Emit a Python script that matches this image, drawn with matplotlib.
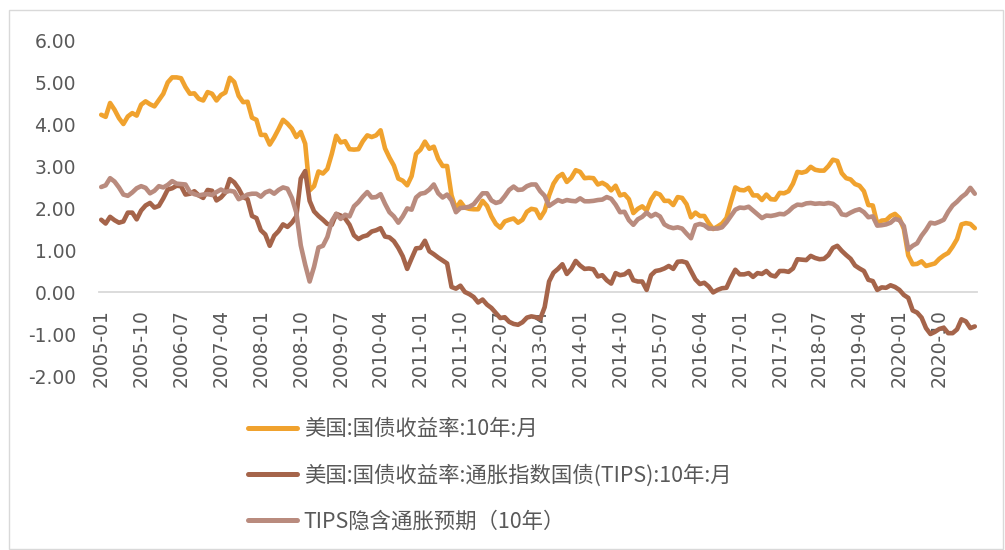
import matplotlib
matplotlib.use('Agg')
import matplotlib.pyplot as plt
import pandas as pd
from matplotlib.patches import Rectangle
from matplotlib.lines import Line2D
from matplotlib.font_manager import FontProperties

# ---------------- data ----------------
months = pd.period_range('2005-01', '2021-06', freq='M').strftime('%Y-%m').tolist()

tick_labels = ['2005-01', '2005-10', '2006-07', '2007-04', '2008-01', '2008-10',
               '2009-07', '2010-04', '2011-01', '2011-10', '2012-07', '2013-04',
               '2014-01', '2014-10', '2015-07', '2016-04', '2017-01', '2017-10',
               '2018-07', '2019-04', '2020-01', '2020-10']

# 美国:国债收益率:10年:月
nominal_10y = [
    4.22, 4.17, 4.50, 4.34, 4.14, 4.00, 4.18, 4.26, 4.20, 4.46, 4.54, 4.47,
    4.42, 4.57, 4.72, 4.99, 5.11, 5.11, 5.09, 4.88, 4.72, 4.73, 4.60, 4.56,
    4.76, 4.72, 4.56, 4.69, 4.75, 5.10, 5.00, 4.67, 4.52, 4.53, 4.15, 4.10,
    3.74, 3.74, 3.51, 3.68, 3.88, 4.10, 4.01, 3.89, 3.69, 3.81, 3.53, 2.42,
    2.52, 2.87, 2.82, 2.93, 3.29, 3.72, 3.56, 3.59, 3.40, 3.39, 3.40, 3.59,
    3.73, 3.69, 3.73, 3.85, 3.42, 3.20, 3.01, 2.70, 2.65, 2.54, 2.76, 3.29,
    3.39, 3.58, 3.41, 3.46, 3.17, 3.00, 3.00, 2.30, 1.98, 2.15, 2.01, 1.98,
    1.97, 1.97, 2.17, 2.05, 1.80, 1.62, 1.53, 1.68, 1.72, 1.75, 1.65, 1.72,
    1.91, 1.98, 1.96, 1.76, 1.93, 2.30, 2.58, 2.74, 2.81, 2.62, 2.72, 2.90,
    2.86, 2.71, 2.72, 2.71, 2.56, 2.60, 2.54, 2.42, 2.53, 2.30, 2.33, 2.21,
    1.88, 1.98, 2.04, 1.94, 2.20, 2.36, 2.32, 2.17, 2.17, 2.07, 2.26, 2.24,
    2.09, 1.78, 1.89, 1.81, 1.81, 1.64, 1.50, 1.56, 1.63, 1.76, 2.14, 2.49,
    2.43, 2.42, 2.48, 2.30, 2.30, 2.19, 2.32, 2.21, 2.20, 2.36, 2.35, 2.40,
    2.58, 2.86, 2.84, 2.87, 2.98, 2.91, 2.89, 2.89, 3.00, 3.15, 3.12, 2.83,
    2.71, 2.68, 2.57, 2.53, 2.40, 2.07, 2.06, 1.63, 1.70, 1.71, 1.81, 1.86,
    1.76, 1.50, 0.87, 0.66, 0.67, 0.73, 0.62, 0.65, 0.68, 0.79, 0.87, 0.93,
    1.08, 1.26, 1.61, 1.64, 1.62, 1.52,
]

# 美国:国债收益率:通胀指数国债(TIPS):10年:月
tips_10y = [
    1.72, 1.63, 1.79, 1.71, 1.65, 1.68, 1.89, 1.89, 1.73, 1.94, 2.06, 2.12,
    2.01, 2.05, 2.23, 2.44, 2.47, 2.53, 2.52, 2.32, 2.34, 2.40, 2.30, 2.24,
    2.43, 2.41, 2.18, 2.25, 2.37, 2.69, 2.61, 2.46, 2.26, 2.21, 1.81, 1.76,
    1.47, 1.37, 1.10, 1.34, 1.45, 1.61, 1.55, 1.65, 1.80, 2.70, 2.88, 2.17,
    1.92, 1.81, 1.72, 1.62, 1.60, 1.86, 1.82, 1.75, 1.60, 1.35, 1.26, 1.32,
    1.35, 1.44, 1.47, 1.52, 1.32, 1.30, 1.21, 1.05, 0.85, 0.55, 0.80, 1.04,
    1.05, 1.22, 0.97, 0.90, 0.82, 0.75, 0.68, 0.12, 0.08, 0.15, 0.00, -0.05,
    -0.12, -0.25, -0.18, -0.30, -0.38, -0.50, -0.62, -0.60, -0.71, -0.76, -0.78, -0.72,
    -0.61, -0.58, -0.60, -0.64, -0.36, 0.25, 0.46, 0.55, 0.66, 0.43, 0.55, 0.74,
    0.63, 0.55, 0.56, 0.54, 0.37, 0.40, 0.28, 0.20, 0.45, 0.40, 0.42, 0.50,
    0.28, 0.25, 0.25, 0.05, 0.40, 0.50, 0.52, 0.56, 0.62, 0.55, 0.72, 0.73,
    0.70, 0.50, 0.30, 0.19, 0.22, 0.13, -0.01, 0.05, 0.09, 0.10, 0.33, 0.53,
    0.42, 0.42, 0.45, 0.36, 0.45, 0.43, 0.50, 0.40, 0.37, 0.50, 0.50, 0.48,
    0.56, 0.78, 0.77, 0.76, 0.86, 0.81, 0.78, 0.79, 0.88, 1.05, 1.10, 0.98,
    0.88, 0.79, 0.63, 0.56, 0.50, 0.29, 0.26, 0.05, 0.11, 0.10, 0.16, 0.12,
    0.05, -0.07, -0.14, -0.44, -0.49, -0.61, -0.86, -1.00, -0.95, -0.88, -0.85, -0.98,
    -0.98, -0.89, -0.65, -0.70, -0.86, -0.82,
]

# TIPS隐含通胀预期（10年）
breakeven_10y = [
    2.50, 2.54, 2.71, 2.63, 2.49, 2.32, 2.29, 2.37, 2.47, 2.52, 2.48, 2.35,
    2.41, 2.52, 2.49, 2.55, 2.64, 2.58, 2.57, 2.56, 2.38, 2.33, 2.30, 2.32,
    2.33, 2.31, 2.38, 2.44, 2.38, 2.41, 2.39, 2.21, 2.26, 2.32, 2.34, 2.34,
    2.27, 2.37, 2.41, 2.34, 2.43, 2.49, 2.46, 2.24, 1.89, 1.11, 0.65, 0.25,
    0.60, 1.06, 1.10, 1.31, 1.69, 1.86, 1.74, 1.84, 1.80, 2.04, 2.14, 2.27,
    2.38, 2.25, 2.26, 2.33, 2.10, 1.90, 1.80, 1.65, 1.80, 1.99, 1.96, 2.25,
    2.34, 2.36, 2.44, 2.56, 2.35, 2.25, 2.32, 2.18, 1.90, 2.00, 2.01, 2.03,
    2.09, 2.22, 2.35, 2.35, 2.18, 2.12, 2.15, 2.28, 2.43, 2.51, 2.43, 2.44,
    2.52, 2.56, 2.56, 2.40, 2.29, 2.05, 2.12, 2.19, 2.15, 2.19, 2.17, 2.16,
    2.23, 2.16, 2.16, 2.17, 2.19, 2.20, 2.26, 2.22, 2.08, 1.90, 1.91, 1.71,
    1.60, 1.73, 1.79, 1.89, 1.80, 1.86, 1.80, 1.61, 1.55, 1.52, 1.54, 1.51,
    1.39, 1.28, 1.59, 1.62, 1.59, 1.51, 1.51, 1.51, 1.54, 1.66, 1.81, 1.96,
    2.01, 2.00, 2.03, 1.94, 1.85, 1.76, 1.82, 1.81, 1.83, 1.86, 1.85, 1.92,
    2.02, 2.08, 2.07, 2.11, 2.12, 2.10, 2.11, 2.10, 2.12, 2.10, 2.02, 1.85,
    1.83, 1.89, 1.94, 1.97, 1.90, 1.78, 1.80, 1.58, 1.59, 1.61, 1.65, 1.74,
    1.71, 1.57, 1.01, 1.10, 1.16, 1.34, 1.48, 1.65, 1.63, 1.67, 1.72, 1.91,
    2.06, 2.15, 2.26, 2.34, 2.48, 2.34,
]

series_names = ['美国:国债收益率:10年:月',
                '美国:国债收益率:通胀指数国债(TIPS):10年:月',
                'TIPS隐含通胀预期（10年）']

y_ticks = [6, 5, 4, 3, 2, 1, 0, -1, -2]
y_tick_labels = ['6.00', '5.00', '4.00', '3.00', '2.00', '1.00', '0.00', '-1.00', '-2.00']

# ---------------- style ----------------
colors = ['#F0A22E', '#A5644A', '#B98B7E']
text_color = '#595959'
W, H = 1005, 550

fig = plt.figure(figsize=(W / 100, H / 100), dpi=100)
fig.patch.set_facecolor('white')

# outer chart border
fig.patches.append(Rectangle((9 / W, 1 - 549 / H), 994 / W, 539 / H,
                             transform=fig.transFigure, fill=False,
                             edgecolor='#D9D9D9', linewidth=1.0))

ax = fig.add_axes([99 / W, 1 - 376 / H, 878 / W, 336 / H])
ax.set_facecolor('none')

x = list(range(len(months)))
handles = []
for vals, c, name in zip([nominal_10y, tips_10y, breakeven_10y], colors, series_names):
    ax.plot(x, vals, color=c, linewidth=3.3, solid_joinstyle='round',
            solid_capstyle='round', label=name)
    handles.append(Line2D([0], [0], color=c, linewidth=3.6, solid_capstyle='round'))

ax.set_xlim(-0.5, len(months) - 0.5)
ax.set_ylim(-2, 6)

for s in ['top', 'right', 'left']:
    ax.spines[s].set_visible(False)
ax.spines['bottom'].set_position(('data', 0))
ax.spines['bottom'].set_color('#D9D9D9')
ax.spines['bottom'].set_linewidth(1.3)
ax.spines['bottom'].set_zorder(1)

ax.set_xticks([months.index(t) for t in tick_labels])
ax.set_xticklabels(tick_labels, rotation=90, family='DejaVu Sans')
ax.tick_params(axis='x', length=0, pad=12, labelsize=13.5, labelcolor=text_color)

ax.set_yticks(y_ticks)
ax.set_yticklabels(y_tick_labels, family='DejaVu Sans')
ax.tick_params(axis='y', length=0, pad=16.5, labelsize=13.5, labelcolor=text_color)

leg = fig.legend(handles, series_names, loc='upper left',
                 bbox_to_anchor=(248 / W, 1 - 418 / H),
                 frameon=False, handlelength=2.3, handletextpad=0.3,
                 labelspacing=1.12, borderpad=0, borderaxespad=0,
                 prop=FontProperties(family=['Noto Sans CJK SC', 'DejaVu Sans'], size=15.4))
for t in leg.get_texts():
    t.set_color(text_color)

fig.savefig('out.png', dpi=100)
